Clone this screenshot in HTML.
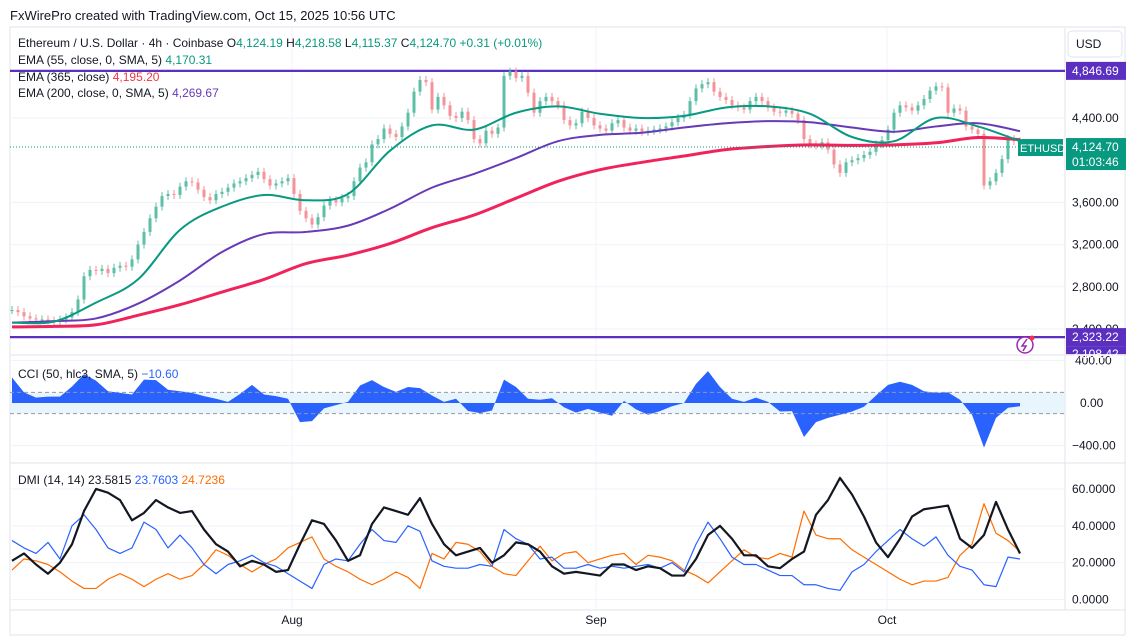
<!DOCTYPE html>
<html><head><meta charset="utf-8">
<style>
html,body{margin:0;padding:0;background:#fff;}
body{width:1126px;height:644px;overflow:hidden;position:relative;font-family:"Liberation Sans",sans-serif;}
svg{position:absolute;left:0;top:0;}
</style></head>
<body>
<svg id="chart" width="1126" height="644" viewBox="0 0 1126 644" xmlns="http://www.w3.org/2000/svg">
  <rect x="0" y="0" width="1126" height="644" fill="#ffffff"/>
  <text x="10" y="20" font-size="13" fill="#131722">FxWirePro created with TradingView.com, Oct 15, 2025 10:56 UTC</text>
  <rect x="10" y="27" width="1115" height="608" fill="none" stroke="#e0e3eb" stroke-width="1"/>
  <g id="grid"></g>
  <g id="price"></g>
  <g id="cci"></g>
  <g id="dmi"></g>
  <g id="axes"></g>
  <g font-size="12">
    <text x="18" y="47" fill="#131722">Ethereum / U.S. Dollar · 4h · Coinbase <tspan fill="#131722">O</tspan><tspan fill="#089981">4,124.19</tspan> <tspan fill="#131722">H</tspan><tspan fill="#089981">4,218.58</tspan> <tspan fill="#131722">L</tspan><tspan fill="#089981">4,115.37</tspan> <tspan fill="#131722">C</tspan><tspan fill="#089981">4,124.70</tspan> <tspan fill="#089981">+0.31 (+0.01%)</tspan></text>
    <text x="18" y="64" fill="#131722">EMA (55, close, 0, SMA, 5) <tspan fill="#089981">4,170.31</tspan></text>
    <text x="18" y="81" fill="#131722">EMA (365, close) <tspan fill="#f23645">4,195.20</tspan></text>
    <text x="18" y="97" fill="#131722">EMA (200, close, 0, SMA, 5) <tspan fill="#673ab7">4,269.67</tspan></text>
    <text x="18" y="378" fill="#131722">CCI (50, hlc3, SMA, 5) <tspan fill="#2962ff">−10.60</tspan></text>
    <text x="18" y="484" fill="#131722">DMI (14, 14) <tspan fill="#131722">23.5815</tspan> <tspan fill="#2962ff">23.7603</tspan> <tspan fill="#ff6d00">24.7236</tspan></text>
  </g>
  <g>
    <rect x="1068" y="31" width="54" height="26" rx="4" fill="#fff" stroke="#e0e3eb"/>
    <text x="1076" y="48" font-size="12" fill="#131722">USD</text>
  </g>
</svg>
<script>
// ---- data ----
const priceX0 = 12, priceStep = 6;
const closes = [2580,2560,2520,2500,2490,2490,2480,2470,2490,2510,2560,2680,2900,2960,2950,2970,2930,2980,3000,2990,3060,3200,3320,3450,3560,3660,3680,3670,3750,3800,3790,3720,3650,3620,3680,3700,3740,3780,3800,3830,3860,3890,3820,3760,3780,3800,3830,3680,3520,3450,3390,3460,3570,3620,3600,3640,3660,3800,3930,3980,4150,4200,4300,4250,4220,4320,4450,4650,4760,4740,4480,4600,4520,4420,4400,4460,4380,4200,4160,4280,4250,4310,4800,4840,4780,4800,4640,4450,4560,4600,4560,4520,4380,4330,4350,4460,4400,4330,4300,4280,4350,4380,4310,4280,4300,4270,4280,4290,4300,4320,4360,4400,4430,4560,4680,4720,4740,4650,4600,4570,4520,4500,4480,4560,4600,4560,4500,4460,4450,4470,4440,4380,4200,4150,4140,4170,4100,3960,3880,3980,4000,4020,4050,4080,4150,4190,4290,4450,4520,4500,4470,4520,4580,4660,4700,4690,4450,4490,4470,4320,4290,4250,3760,3800,3880,4010,4200,4180,4100];
const emaX0 = 12, emaStep = 42;
const ema55 = [2460,2470,2650,2870,3340,3560,3670,3620,3680,4090,4330,4290,4450,4510,4440,4400,4420,4500,4510,4440,4220,4180,4400,4320,4180];
const ema200 = [2460,2475,2500,2640,2860,3130,3300,3320,3380,3540,3740,3870,4020,4180,4240,4260,4310,4350,4370,4360,4310,4270,4320,4350,4275];
const ema365 = [2420,2425,2440,2530,2630,2750,2870,3020,3100,3210,3360,3480,3640,3800,3910,3980,4040,4100,4130,4145,4140,4145,4165,4215,4195];
const oscX0 = 12, oscStep = 12;
const cci = [240,100,50,60,60,155,270,210,110,95,80,220,215,125,110,95,65,40,10,85,170,80,65,40,-180,-170,-50,-20,10,165,215,150,105,150,140,70,10,40,-75,-95,-70,220,150,40,30,45,-40,-90,-55,-90,-120,20,-60,-110,-77,-30,0,180,300,150,40,10,50,10,-80,-77,-320,-180,-140,-110,-80,-35,70,170,200,170,110,95,100,30,-110,-420,-140,-45,-30];
const adx = [21,25,19,14,20,30,48,60,58,54,43,47,54,50,47,48,38,30,26,18,21,19,15,16,30,43,41,32,21,24,41,50,48,46,55,41,30,24,26,28,20,24,31,30,26,18,14,15,14,13,19,19,16,18,17,13,13,22,35,40,33,24,24,18,17,22,26,46,54,66,57,45,31,23,33,45,49,50,51,33,28,35,53,38,25];
const plusDI = [32,28,25,31,22,40,46,38,28,25,28,42,38,28,35,28,19,14,19,21,24,20,18,14,10,6,19,22,21,30,38,32,31,40,37,21,18,17,17,19,18,38,33,30,22,23,17,17,19,17,18,17,18,19,17,20,15,30,42,33,23,19,19,16,13,13,8,8,6,5,15,19,26,32,38,33,29,34,24,18,16,8,7,23,22];
const minusDI = [16,22,21,19,15,10,6,6,11,14,11,7,11,14,11,13,19,27,24,19,15,19,22,28,31,34,22,18,15,11,8,11,15,12,6,25,22,31,30,26,18,14,13,21,29,21,25,26,20,22,24,25,19,24,23,21,16,13,9,15,21,27,23,22,25,23,48,35,33,33,27,23,19,15,11,8,10,10,12,24,30,52,36,32,26];
const priceTicks = [4400,3600,3200,2800,2400];
const cciTicks = [400,0,-400];
const dmiTicks = [60,40,20,0];
const monthLabels = ["Aug","Sep","Oct"];
const monthX = [292,596,887];
const lastPrice = 4124.70;
const hLevels = [4846.69,2323.22];

// ---- scales ----
const yP = p => 118 + (4400 - p) * 0.1055;
const yC = v => 403 - v * 0.1063;
const yD = v => 599.5 - v * 1.842;
const xP = i => priceX0 + i * priceStep;
const xE = i => emaX0 + i * emaStep;
const xO = i => oscX0 + i * oscStep;
const NS = "http://www.w3.org/2000/svg";
function mk(tag, attrs, parent){const e=document.createElementNS(NS,tag);for(const k in attrs)e.setAttribute(k,attrs[k]);parent.appendChild(e);return e;}
const G = document.getElementById('grid'), P = document.getElementById('price'), C = document.getElementById('cci'), D = document.getElementById('dmi'), A = document.getElementById('axes');

// grid
priceTicks.forEach(t=>{const l=mk('line',{x1:10,x2:1065,y1:yP(t),y2:yP(t),stroke:'#f0f3fa'},G);

});
dmiTicks.forEach(t=>{const l=mk('line',{x1:10,x2:1065,y1:yD(t),y2:yD(t),stroke:'#f0f3fa'},G);

});
cciTicks.forEach(t=>{const l=mk('line',{x1:10,x2:1065,y1:yC(t),y2:yC(t),stroke:'#f0f3fa'},G);

});
monthX.forEach(x=>{const l=mk('line',{x1:x,x2:x,y1:28,y2:610,stroke:'#f0f3fa'},G);

});
[355,463,610].forEach(y=>{const l=mk('line',{x1:10,x2:1126,y1:y,y2:y,stroke:'#e0e3eb'},G);

});
const vax=mk('line',{x1:1065,x2:1065,y1:28,y2:610,stroke:'#e0e3eb'},G);



// horizontal levels
hLevels.forEach(v=>{const l=mk('line',{x1:10,x2:1065,y1:yP(v),y2:yP(v),stroke:'#5b2fc0','stroke-width':2.2},P);

});

// candles
closes.forEach((c,i)=>{
  const o = i>0 ? closes[i-1] : c;
  const up = c>=o;
  const col = up ? '#5cbfa6' : '#f4939a';
  const x = xP(i);
  const y1 = yP(Math.max(o,c)), y2 = yP(Math.min(o,c));
  const w = mk('line',{x1:x,x2:x,y1:y1-4,y2:y2+4,stroke:col,'stroke-width':1},P);
  
  
  const b = mk('rect',{x:x-1.5,y:y1,width:3,height:Math.max(1,y2-y1),fill:col},P);
  
  
});

function smoothPath(xs, ys){
  let d = 'M'+xs[0]+','+ys[0];
  const n=xs.length;
  for(let i=0;i<n-1;i++){
    const p0=i>0?i-1:i, p3=i+2<n?i+2:i+1;
    const c1x=xs[i]+(xs[i+1]-xs[p0])/6, c1y=ys[i]+(ys[i+1]-ys[p0])/6;
    const c2x=xs[i+1]-(xs[p3]-xs[i])/6, c2y=ys[i+1]-(ys[p3]-ys[i])/6;
    d+=' C'+c1x+','+c1y+' '+c2x+','+c2y+' '+xs[i+1]+','+ys[i+1];
  }
  return d;
}
function emaLine(arr,col,w,name){
  const xs=arr.map((v,i)=>xE(i)), ys=arr.map(v=>yP(v));
  const p=mk('path',{d:smoothPath(xs,ys),fill:'none',stroke:col,'stroke-width':w},P);
  
  
}
emaLine(ema365,'#f0245a',3,'ema365-line');
emaLine(ema200,'#673ab7',2,'ema200-line');
emaLine(ema55,'#089981',2,'ema55-line');

// last price dotted line
const lp = mk('line',{x1:10,x2:1065,y1:yP(lastPrice),y2:yP(lastPrice),stroke:'#089981','stroke-dasharray':'1,2','stroke-width':1},P);



// CCI
const band = mk('rect',{x:10,y:yC(100),width:1055,height:yC(-100)-yC(100),fill:'#e3f2fd',opacity:0.8},C);


let cd='M'+xO(0)+','+yC(0);
cci.forEach((v,i)=>{cd+=' L'+xO(i)+','+yC(v);});
cd+=' L'+xO(cci.length-1)+','+yC(0)+' Z';
const ca = mk('path',{d:cd,fill:'#2962ff'},C);


[100,-100].forEach(v=>{const l=mk('line',{x1:10,x2:1065,y1:yC(v),y2:yC(v),stroke:'#9598a1','stroke-dasharray':'4,3'},C);

});

// DMI
function oscLine(arr,col,w,name){
  const pts=arr.map((v,i)=>xO(i)+','+yD(v)).join(' ');
  const p=mk('polyline',{points:pts,fill:'none',stroke:col,'stroke-width':w,'stroke-linejoin':'round'},D);
  
  
}
oscLine(minusDI,'#ff6d00',1.2,'minus-di-line');
oscLine(plusDI,'#2962ff',1.2,'plus-di-line');
oscLine(adx,'#131722',2.2,'adx-line');

// axis labels
function lab(x,y,t,name,anchor){const e=mk('text',{x:x,y:y,'font-size':12,fill:'#131722','text-anchor':anchor||'start'},A);e.textContent=t;

return e;}
priceTicks.forEach(t=>lab(1072,yP(t)+4,t.toLocaleString('en-US',{minimumFractionDigits:2}),'price-tick-label'));
cciTicks.forEach(t=>lab(t<0?1072:(t===0?1080:1075),yC(t)+4,(t<0?'−':'')+Math.abs(t).toFixed(2),'cci-tick-label'));
dmiTicks.forEach(t=>lab(1072,yD(t)+4,t.toFixed(4),'dmi-tick-label'));
monthLabels.forEach((m,i)=>lab(monthX[i],624,m,'x-axis-month-label','middle'));

// price labels
function box(y,h,col,lines,name){
  const g=mk('g',{},A);
  
  
  mk('rect',{x:1066,y:y,width:60,height:h,fill:col},g);
  lines.forEach((t,i)=>{const e=mk('text',{x:1072,y:y+13+i*15,'font-size':12,fill:'#fff'},g);e.textContent=t;});
}
box(yP(hLevels[0])-9,18,'#5b2fc0',['4,846.69'],'level-label-high');
box(yP(hLevels[1])-9,18,'#5b2fc0',['2,323.22'],'level-label-low');
box(yP(hLevels[1])+9,8,'#5b2fc0',[],'level-label-extra');
const ex=mk('text',{x:1072,y:yP(hLevels[1])+21,'font-size':12,fill:'#fff'},A);ex.textContent='2,108.42';


box(yP(lastPrice)-9,32,'#089981',['4,124.70','01:03:46'],'last-price-label');
const sg=mk('g',{},A);


mk('rect',{x:1018,y:yP(lastPrice)-8,width:45,height:17,fill:'#089981'},sg);
const st=mk('text',{x:1020,y:yP(lastPrice)+5,'font-size':11,fill:'#fff'},sg);st.textContent='ETHUSD';
// assistant icon
const ic=mk('g',{},A);


mk('circle',{cx:1025,cy:345,r:8,fill:'#fff',stroke:'#9c27b0','stroke-width':1.5},ic);
mk('path',{d:'M1027,339 L1022,346 L1026,346 L1023,351',fill:'none',stroke:'#9c27b0','stroke-width':1.5},ic);
mk('circle',{cx:1032,cy:338,r:2.5,fill:'#f23645'},ic);
</script>
</body></html>
